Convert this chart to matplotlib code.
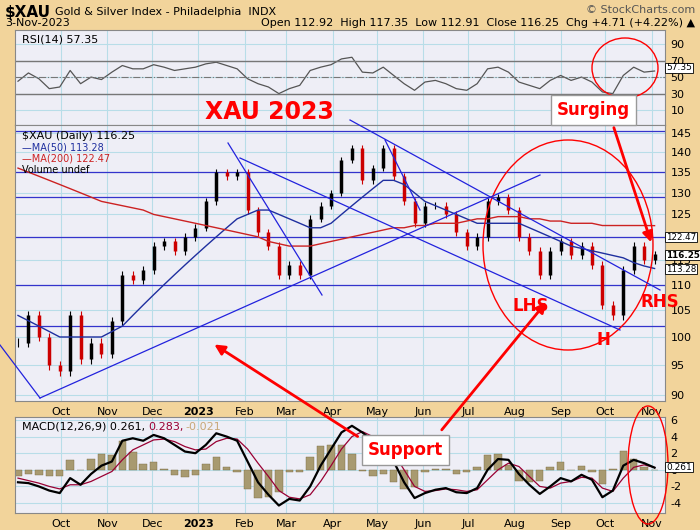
import matplotlib.pyplot as plt
import matplotlib.dates as mdates
from matplotlib.patches import Ellipse
import numpy as np
import pandas as pd

# weekly closes (Fridays)
dates = pd.date_range('2022-09-02', '2023-11-03', freq='W-FRI')
closes = [99, 104, 100, 95, 94, 104, 96, 99, 97, 103, 112, 111, 113, 118, 119, 117,
          120, 122, 128, 135, 134, 135, 126, 121, 118, 112, 114, 112, 124, 127, 130,
          138, 141, 133, 136, 141, 134, 128, 123, 127, 127, 125, 121, 118, 120, 128,
          129, 126, 120, 117, 112, 117, 119, 116, 118, 114, 106, 104, 113, 118, 115, 116.25]
ma50 = [104, 103, 102, 101, 100, 100, 100, 100, 100, 101, 102, 104, 106, 108, 110, 112,
        114, 116, 118, 120, 122, 124, 125, 126, 126, 125, 124, 123, 122, 122, 123,
        125, 127, 129, 131, 133, 133, 132, 130, 128, 127, 126, 125, 124, 123, 123,
        123, 123, 123, 122, 121, 120, 119, 118, 117.5, 117, 116.5, 116, 115.5, 114.5, 113.8, 113.28]
ma200 = [136, 135, 134, 133, 132, 131, 130, 129, 128, 127.5, 127, 126.5, 126, 125, 124.5, 124,
         123.5, 123, 122.5, 122, 121.5, 121, 120.5, 120, 119, 118.5, 118, 118, 118, 118.5, 119,
         119.5, 120, 120.5, 121, 121.5, 122, 122, 122.5, 122.5, 123, 123, 123, 123.5, 124, 124,
         124.5, 124.5, 124.5, 124, 124, 123.5, 123.5, 123, 123, 123, 122.5, 122.5, 122.5, 122.5, 122.5, 122.47]
rsi = [45, 55, 48, 36, 38, 58, 42, 50, 47, 56, 64, 60, 60, 65, 62, 58,
       60, 62, 66, 68, 64, 60, 48, 42, 38, 30, 36, 40, 58, 62, 65,
       72, 74, 56, 55, 62, 52, 42, 34, 44, 46, 42, 36, 34, 42, 60,
       62, 56, 44, 40, 36, 46, 52, 46, 50, 44, 32, 30, 52, 62, 56, 57.35]
macd = [-1.5, -1.6, -2.0, -2.5, -2.8, -1.0, -1.8, -0.5, 0.5, 1.0, 3.5, 3.8, 3.5, 4.2, 3.8, 3.0,
        2.2, 2.0, 3.0, 4.4, 4.0, 3.5, 1.0, -1.5, -3.0, -4.3, -3.5, -3.7, -2.0, 0.5, 2.5,
        4.5, 5.3, 4.5, 3.5, 3.0, 1.0, -1.5, -3.4, -2.8, -2.4, -2.2, -2.7, -2.8, -2.2, 0.0,
        1.3, 1.2, -0.5, -1.8, -2.9, -2.0, -1.0, -1.4, -0.6, -1.2, -3.3, -2.5, 0.5, 1.2, 0.8, 0.261]
signal = [-1.0, -1.3, -1.6, -2.0, -2.3, -1.8, -1.8, -1.4, -0.8, -0.2, 1.2, 2.4, 3.0, 3.6, 3.7, 3.4,
          2.8, 2.4, 2.5, 3.4, 3.8, 3.7, 2.5, 0.8, -0.8, -2.5, -3.3, -3.5, -3.0, -1.4, 0.5,
          2.5, 4.0, 4.6, 4.0, 3.3, 2.0, 0.0, -2.0, -2.6, -2.5, -2.3, -2.4, -2.6, -2.4, -1.2,
          0.0, 0.8, 0.4, -0.8, -2.0, -2.2, -1.6, -1.4, -0.9, -1.0, -2.2, -2.6, -1.0, 0.3, 0.6, 0.283]

closes = np.array(closes)
opens = np.r_[closes[0], closes[:-1]]
hist = np.array(macd) - np.array(signal)

tan = '#F2D49B'
panel = '#EEEEF6'
grid_c = '#B8DDE8'

fig = plt.figure(figsize=(7, 5.3), dpi=100, facecolor=tan)
H = 530.0
def box(top, bot):
    return [15 / 700, 1 - bot / H, 650 / 700, (bot - top) / H]

ax_rsi = fig.add_axes(box(30, 125))
ax = fig.add_axes(box(125, 401))
ax_m = fig.add_axes(box(417, 513))

xlim = (mdates.date2num(pd.Timestamp('2022-08-31')), mdates.date2num(pd.Timestamp('2023-11-10')))
months = pd.date_range('2022-10-01', '2023-11-01', freq='MS')
mlabels = ['2023' if m.month == 1 else m.strftime('%b') for m in months]

for a in (ax_rsi, ax, ax_m):
    a.set_facecolor(panel)
    a.set_xlim(xlim)
    a.set_xticks(months)
    a.yaxis.tick_right()
    a.tick_params(labelsize=8, length=0, pad=4)
    a.grid(True, color=grid_c, lw=0.8)
    a.set_axisbelow(True)
    for s in a.spines.values():
        s.set_color('#888888')
    a.set_xticklabels([])
for a in (ax, ax_m):
    a.set_xticklabels(mlabels)
    for t in a.get_xticklabels():
        if t.get_text() == '2023':
            t.set_fontweight('bold')

# RSI
ax_rsi.plot(dates, rsi, color='#555555', lw=0.9)
ax_rsi.set_ylim(-8, 107)
ax_rsi.set_yticks([10, 30, 50, 70, 90])
ax_rsi.axhline(70, color='#777777', lw=1)
ax_rsi.axhline(30, color='#777777', lw=1)
ax_rsi.axhline(50, color='#777777', lw=0.8, ls='-.')
ax_rsi.text(0.01, 0.95, 'RSI(14) 57.35', transform=ax_rsi.transAxes, fontsize=8, va='top')

# price
ax.set_yscale('log')
ax.set_ylim(89, 147.1)
pt = [90, 95, 100, 105, 110, 115, 120, 125, 130, 135, 140, 145]
ax.set_yticks(pt)
ax.set_yticklabels([str(p) for p in pt])
ax.yaxis.set_minor_locator(plt.NullLocator())
for lvl in [145.5, 135, 129, 120, 110, 102]:
    ax.axhline(lvl, color='#3333CC', lw=0.9)
up = closes >= opens
cols = np.where(up, 'black', '#CC0000')
ax.vlines(dates, np.minimum(opens, closes) - 0.8, np.maximum(opens, closes) + 0.8, color=cols, lw=0.8)
ax.vlines(dates, opens, closes, color=cols, lw=2.5)
ax.plot(dates, ma50, color='#1F2F9F', lw=1)
ax.plot(dates, ma200, color='#CC2222', lw=1)
ax.text(0.01, 0.98, '$XAU (Daily) 116.25', transform=ax.transAxes, fontsize=8, va='top')
ax.text(0.01, 0.935, '—MA(50) 113.28', transform=ax.transAxes, fontsize=7, va='top', color='#1F2F9F')
ax.text(0.01, 0.895, '—MA(200) 122.47', transform=ax.transAxes, fontsize=7, va='top', color='#CC2222')
ax.text(0.01, 0.855, 'Volume undef', transform=ax.transAxes, fontsize=7, va='top')

# MACD
ax_m.bar(dates, hist * 1.5, width=5, color='#A89A70', edgecolor='#7A6A40', lw=0.3)
ax_m.plot(dates, signal, color='#990033', lw=0.9)
ax_m.plot(dates, macd, color='black', lw=1.6)
ax_m.set_ylim(-5.2, 6.36)
ax_m.set_yticks([-4, -2, 0, 2, 4, 6])
ax_m.set_yticklabels(['-4', '-2', '0', '2', '4', '6'])
ax_m.text(0.01, 0.95, 'MACD(12,26,9) 0.261,', transform=ax_m.transAxes, fontsize=8, va='top')
ax_m.text(0.205, 0.95, '0.283,', transform=ax_m.transAxes, fontsize=8, va='top', color='#990033')
ax_m.text(0.262, 0.95, '-0.021', transform=ax_m.transAxes, fontsize=8, va='top', color='#C8A878')

# header
fig.text(5 / 700, 1 - 12 / H, '$XAU', fontsize=11, fontweight='bold', va='center')
fig.text(55 / 700, 1 - 12 / H, 'Gold & Silver Index - Philadelphia  INDX', fontsize=8, va='center')
fig.text(695 / 700, 1 - 10 / H, '© StockCharts.com', fontsize=8, va='center', ha='right', color='#555555')
fig.text(5 / 700, 1 - 23 / H, '3-Nov-2023', fontsize=8, va='center')
fig.text(695 / 700, 1 - 23 / H, 'Open 112.92  High 117.35  Low 112.91  Close 116.25  Chg +4.71 (+4.22%) ▲',
         fontsize=8, va='center', ha='right')

# overlay in pixel coordinates for the annotations
ov = fig.add_axes([0, 0, 1, 1], facecolor='none')
ov.set_xlim(0, 700)
ov.set_ylim(530, 0)
ov.axis('off')
for (x0, y0, x1, y1) in [(40, 398, 540, 175), (350, 120, 660, 290), (240, 158, 620, 330),
                         (228, 143, 322, 295), (385, 140, 420, 210), (0, 345, 40, 398)]:
    ov.plot([x0, x1], [y0, y1], color='#2222DD', lw=0.9)
ov.add_patch(Ellipse((568, 245), 170, 210, fill=False, color='red', lw=1))
ov.add_patch(Ellipse((625, 68), 66, 60, fill=False, color='red', lw=1))
ov.add_patch(Ellipse((648, 465), 40, 118, fill=False, color='red', lw=1))
ov.text(205, 112, 'XAU 2023', color='red', fontsize=17, fontweight='bold', va='center')
bb = dict(boxstyle='square,pad=0.35', fc='white', ec='#999999')
ov.text(557, 110, 'Surging', color='red', fontsize=12, fontweight='bold', va='center', bbox=bb)
ov.text(368, 450, 'Support', color='red', fontsize=12, fontweight='bold', va='center', bbox=bb)
ov.text(513, 306, 'LHS', color='red', fontsize=12, fontweight='bold', va='center')
ov.text(597, 340, 'H', color='red', fontsize=12, fontweight='bold', va='center')
ov.text(641, 302, 'RHS', color='red', fontsize=12, fontweight='bold', va='center')
arr = dict(arrowstyle='-|>', color='red', lw=2, mutation_scale=15)
ov.annotate('', xy=(652, 245), xytext=(613, 125), arrowprops=arr)
ov.annotate('', xy=(212, 343), xytext=(360, 438), arrowprops=arr)
ov.annotate('', xy=(548, 300), xytext=(440, 432), arrowprops=arr)
vb = dict(boxstyle='square,pad=0.1', fc='white', ec='black', lw=0.6)
ov.text(666, 68, '57.35', fontsize=6.5, va='center', bbox=vb)
ov.text(666, 255, '116.25', fontsize=6.3, va='center', fontweight='bold', bbox=vb)
ov.text(666, 269, '113.28', fontsize=6.3, va='center', bbox=vb)
ov.text(666, 237, '122.47', fontsize=6.3, va='center', bbox=vb)
ov.text(666, 467, '0.261', fontsize=6.5, va='center', bbox=vb)

fig.savefig('out.png', dpi=100, facecolor=tan)
